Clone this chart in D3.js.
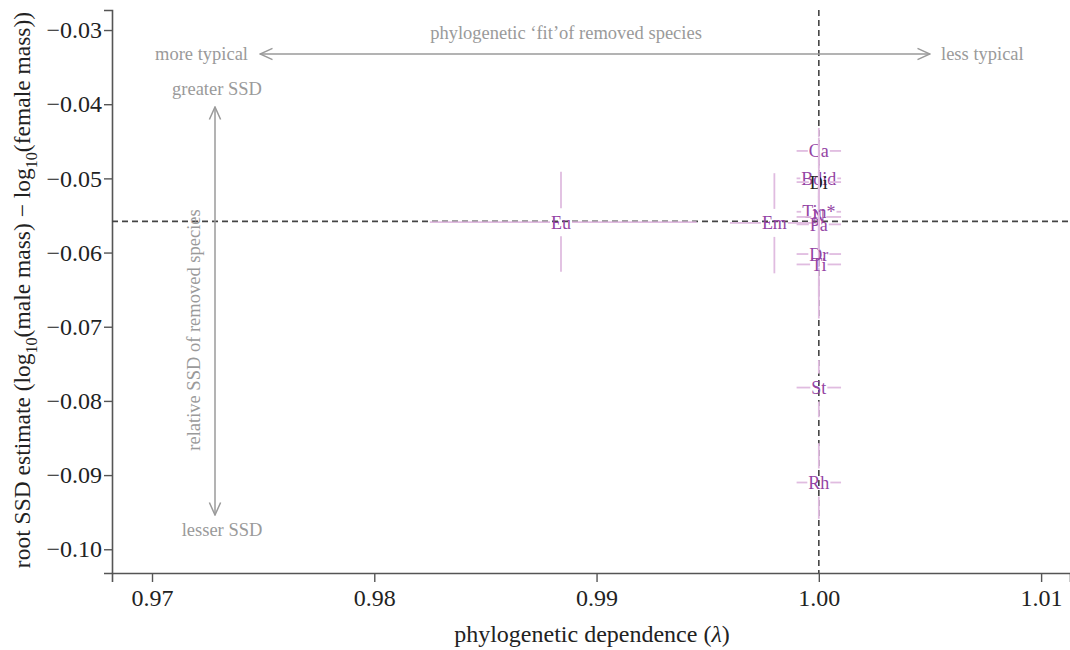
<!DOCTYPE html>
<html>
<head>
<meta charset="utf-8">
<script src="https://cdn.jsdelivr.net/npm/d3@7"></script>
<style>
  body { margin: 0; background: #fff; }
  svg text { font-family: "Liberation Serif", "Times New Roman", Tinos, "DejaVu Serif", serif !important; }
</style>
</head>
<body>
<div id="chart"></div>
<script>
// removed-taxon labels and estimates
var labels  = ["Eu", "Em", "Ca", "Bdid", "Di", "Tin*", "N", "Pa", "Dr", "Ti", "St", "Rh"];
var lambda  = [0.9884, 0.9980, 1.000, 1.000, 1.000, 1.000, 1.000, 1.000, 1.000, 1.000, 1.000, 1.000];
var lamLo   = [0.9825, 0.9960, 0.999, 0.999, 0.999, 0.999, 0.999, 0.999, 0.999, 0.999, 0.999, 0.999];
var lamHi   = [0.9945, 0.9999, 1.001, 1.001, 1.001, 1.001, 1.001, 1.001, 1.001, 1.001, 1.001, 1.001];
var ssd     = [-0.0559, -0.0560, -0.0463, -0.0500, -0.0505, -0.0545, -0.0552, -0.0562, -0.0602, -0.0616, -0.0782, -0.0910];
var ssdLo   = [-0.0491, -0.0493, -0.0432, -0.0445, -0.0450, -0.0490, -0.0497, -0.0505, -0.0545, -0.0550, -0.0745, -0.0857];
var ssdHi   = [-0.0626, -0.0628, -0.0494, -0.0555, -0.0560, -0.0600, -0.0607, -0.0620, -0.0660, -0.0689, -0.0822, -0.0959];
var black   = ["Di"];

// full-data reference values
var refLambda = 1.00;
var refSSD = -0.0558;

var xTicks = [0.97, 0.98, 0.99, 1.00, 1.01];
var yTicks = [-0.03, -0.04, -0.05, -0.06, -0.07, -0.08, -0.09, -0.10];

var width = 1070, height = 650;
var margin = {left: 112, right: 0, top: 10, bottom: 77};

var x = d3.scaleLinear().domain([0.9682, 1.0113]).range([margin.left, width - margin.right]);
var y = d3.scaleLinear().domain([-0.1032, -0.0273]).range([height - margin.bottom, margin.top]);

var svg = d3.select("#chart")
    .append("svg")
    .attr("width", width)
    .attr("height", height);

var defs = svg.append("defs");
defs.append("marker")
    .attr("id", "head")
    .attr("viewBox", "0 0 12 12")
    .attr("refX", 11).attr("refY", 6)
    .attr("markerWidth", 15).attr("markerHeight", 15)
    .attr("markerUnits", "userSpaceOnUse")
    .attr("orient", "auto-start-reverse")
    .append("path")
    .attr("d", "M1,1.5 L11,6 L1,10.5")
    .attr("fill", "none")
    .attr("stroke", "#9a9a9a")
    .attr("stroke-width", 1.2);

// axes
var xAxis = svg.append("g")
    .attr("transform", "translate(0," + (height - margin.bottom) + ")")
    .call(d3.axisBottom(x).tickValues(xTicks).tickFormat(d3.format(".2f")).tickSizeOuter(0).tickSize(9).tickPadding(7));
var yAxis = svg.append("g")
    .attr("transform", "translate(" + margin.left + ",0)")
    .call(d3.axisLeft(y).tickValues(yTicks).tickFormat(d3.format(".2f")).tickSizeOuter(0).tickSize(8).tickPadding(2));

[xAxis, yAxis].forEach(function(a){
    a.attr("font-family", null);
    a.select(".domain").attr("stroke", "#555").attr("stroke-width", 1.6);
    a.selectAll(".tick line").attr("stroke", "#555").attr("stroke-width", 1.4);
    a.selectAll(".tick text").attr("fill", "#222").style("font-size", "24px");
});

// reference lines
svg.append("line")
    .attr("x1", margin.left).attr("x2", width)
    .attr("y1", y(refSSD)).attr("y2", y(refSSD))
    .attr("stroke", "#444").attr("stroke-width", 1.6).attr("stroke-dasharray", "6,4");
svg.append("line")
    .attr("x1", x(refLambda)).attr("x2", x(refLambda))
    .attr("y1", margin.top).attr("y2", height - margin.bottom)
    .attr("stroke", "#444").attr("stroke-width", 1.6).attr("stroke-dasharray", "6,4");

// data table
var data = labels.map(function(d, i){
    return {label: d, lam: lambda[i], lo: lamLo[i], hi: lamHi[i], v: ssd[i], vlo: ssdLo[i], vhi: ssdHi[i]};
});

var vgap = 14;
var pink = "#e0bce0";

var pts = svg.append("g").selectAll("g")
    .data(data)
    .enter()
    .append("g");

pts.append("text")
    .attr("x", function(d){ return x(d.lam); })
    .attr("y", function(d){ return y(d.v); })
    .attr("dy", "0.36em")
    .attr("text-anchor", "middle")
    .style("font-size", "18px")
    .attr("fill", function(d){ return black.includes(d.label) ? "#222" : "#9444a4"; })
    .text(function(d){ return d.label; })
    .each(function(d){ d.hgap = this.getComputedTextLength() / 2 + 1; });

pts.each(function(d){
    var g = d3.select(this);
    var segs = [
        [x(d.lo), y(d.v), x(d.lam) - d.hgap, y(d.v)],
        [x(d.lam) + d.hgap, y(d.v), x(d.hi), y(d.v)],
        [x(d.lam), y(d.vlo), x(d.lam), y(d.v) - vgap],
        [x(d.lam), y(d.v) + vgap, x(d.lam), y(d.vhi)]
    ];
    g.selectAll("line")
        .data(segs.filter(function(s){ return (s[2]-s[0] >= 0) && (s[3]-s[1] >= 0) && (s[2]-s[0]) + (s[3]-s[1]) > 0; }))
        .enter()
        .insert("line", "text")
        .attr("x1", function(s){ return s[0]; })
        .attr("y1", function(s){ return s[1]; })
        .attr("x2", function(s){ return s[2]; })
        .attr("y2", function(s){ return s[3]; })
        .attr("stroke", pink)
        .attr("stroke-width", 1.8);
});

// annotations
var grey = "#9a9a9a";
svg.append("text").attr("x", 566).attr("y", 39).attr("text-anchor", "middle")
    .attr("fill", grey).style("font-size", "18.5px").text("phylogenetic \u2018fit\u2019of removed species");
svg.append("line").attr("x1", 260).attr("x2", 930).attr("y1", 54).attr("y2", 54)
    .attr("stroke", grey).attr("stroke-width", 1.5)
    .attr("marker-start", "url(#head)").attr("marker-end", "url(#head)");
svg.append("text").attr("x", 248).attr("y", 60).attr("text-anchor", "end")
    .attr("fill", grey).style("font-size", "18.5px").text("more typical");
svg.append("text").attr("x", 941).attr("y", 60)
    .attr("fill", grey).style("font-size", "18.5px").text("less typical");

svg.append("text").attr("x", 217).attr("y", 95).attr("text-anchor", "middle")
    .attr("fill", grey).style("font-size", "18.5px").text("greater SSD");
svg.append("line").attr("x1", 215).attr("x2", 215).attr("y1", 107).attr("y2", 515)
    .attr("stroke", grey).attr("stroke-width", 1.5)
    .attr("marker-start", "url(#head)").attr("marker-end", "url(#head)");
svg.append("text").attr("x", 222).attr("y", 536).attr("text-anchor", "middle")
    .attr("fill", grey).style("font-size", "18.5px").text("lesser SSD");
svg.append("text")
    .attr("transform", "translate(200,330) rotate(-90)")
    .attr("text-anchor", "middle")
    .attr("fill", grey).style("font-size", "18.5px")
    .text("relative SSD of removed species");

// axis titles
svg.append("text")
    .attr("x", 592).attr("y", 642).attr("text-anchor", "middle")
    .attr("fill", "#222").style("font-size", "24px")
    .html("phylogenetic dependence (<tspan font-style='italic'>\u03bb</tspan>)");

var yt = svg.append("text")
    .attr("transform", "translate(30,290) rotate(-90)")
    .attr("text-anchor", "middle")
    .attr("fill", "#222").style("font-size", "23.5px");
yt.append("tspan").text("root SSD estimate (log");
yt.append("tspan").attr("dy", 7).style("font-size", "16px").text("10");
yt.append("tspan").attr("dy", -7).text("(male mass) \u2212 log");
yt.append("tspan").attr("dy", 7).style("font-size", "16px").text("10");
yt.append("tspan").attr("dy", -7).text("(female mass))");
</script>
</body>
</html>
